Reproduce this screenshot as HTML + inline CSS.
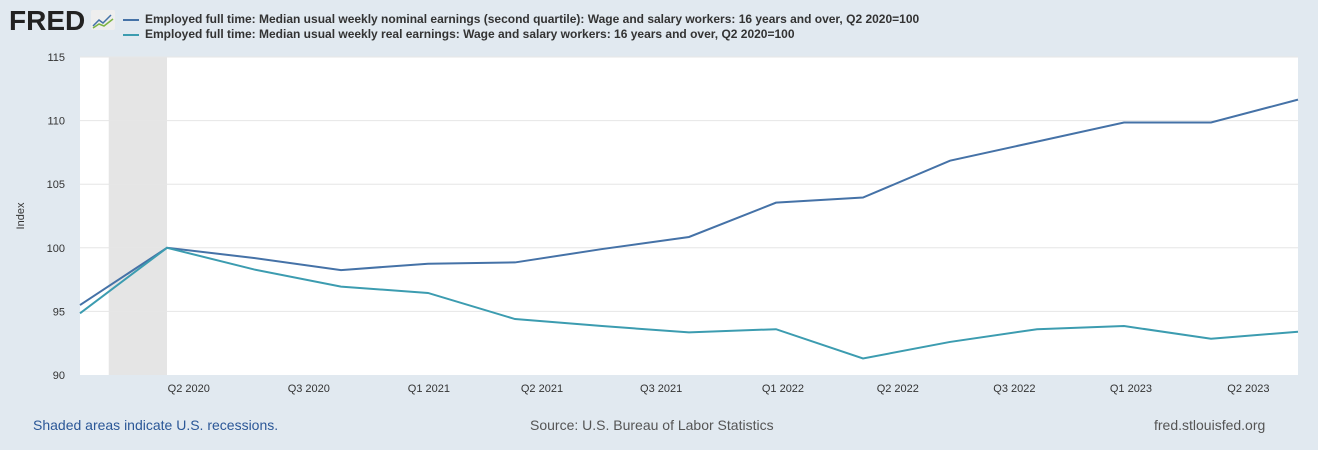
<!DOCTYPE html>
<html><head><meta charset="utf-8"><style>
body{margin:0;width:1318px;height:450px;background:#e1e9f0;font-family:"Liberation Sans",Arial,sans-serif;overflow:hidden;position:relative}
.logo{position:absolute;left:9px;top:5px;font-weight:900;font-size:28px;color:#222;letter-spacing:0px}
.leg{position:absolute;left:123px;font-size:12px;font-weight:bold;color:#333}
.leg span{display:inline-block;width:16px;height:2px;vertical-align:middle;margin-right:6px}
.foot{position:absolute;top:417px;font-size:14px}
</style></head><body>
<div class="logo">FRED</div>
<svg style="position:absolute;left:91px;top:10px" width="24" height="20"><rect width="24" height="20" rx="2" fill="#eee"/><polyline points="2,16 8,10 12,13 20,5" fill="none" stroke="#4572a7" stroke-width="1.5"/><polyline points="2,18 8,14 13,16 22,9" fill="none" stroke="#7cb342" stroke-width="1.5"/></svg>
<div class="leg" style="top:12px"><span style="background:#4572a7"></span>Employed full time: Median usual weekly nominal earnings (second quartile): Wage and salary workers: 16 years and over, Q2 2020=100</div>
<div class="leg" style="top:27px"><span style="background:#3c9cb0"></span>Employed full time: Median usual weekly real earnings: Wage and salary workers: 16 years and over, Q2 2020=100</div>
<svg id="chart" style="position:absolute;left:0;top:0" width="1318" height="410"></svg>
<div class="foot" style="left:33px;color:#2b5797">Shaded areas indicate U.S. recessions.</div>
<div class="foot" style="left:530px;color:#555">Source: U.S. Bureau of Labor Statistics</div>
<div class="foot" style="left:1154px;color:#555">fred.stlouisfed.org</div>
<script>
const quarters=["Q1 2020","Q2 2020","Q3 2020","Q4 2020","Q1 2021","Q2 2021","Q3 2021","Q4 2021","Q1 2022","Q2 2022","Q3 2022","Q4 2022","Q1 2023","Q2 2023","Q3 2023"];
const nominal=[95.5,100,99.2,98.25,98.75,98.85,99.9,100.85,103.55,103.95,106.85,108.35,109.85,109.85,111.65];
const real=[94.85,100,98.3,96.95,96.45,94.4,93.85,93.35,93.6,91.3,92.6,93.6,93.85,92.85,93.4];
const yTicks=[90,95,100,105,110,115];
const xTickLabels=["Q2 2020","Q3 2020","Q1 2021","Q2 2021","Q3 2021","Q1 2022","Q2 2022","Q3 2022","Q1 2023","Q2 2023"];
const xTickAt=[1.25,2.63,4.01,5.31,6.68,8.08,9.4,10.74,12.08,13.43];
const recession=[0.33,1];
const L=80,R=1298,T=57,B=375,ns="http://www.w3.org/2000/svg",svg=document.getElementById('chart');
const x=i=>L+i*(R-L)/(quarters.length-1);
const y=v=>B-(v-90)*(B-T)/25;
function mk(t,a,p){const e=document.createElementNS(ns,t);for(const k in a)e.setAttribute(k,a[k]);(p||svg).appendChild(e);return e;}
const bg=mk('rect',{x:L,y:T,width:R-L,height:B-T,fill:'#fff'});


const rs=mk('rect',{x:x(recession[0]),y:T,width:x(recession[1])-x(recession[0]),height:B-T,fill:'#e5e5e5'});


yTicks.forEach(v=>{
  if(v>90){const g=mk('line',{x1:L,x2:R,y1:y(v),y2:y(v),stroke:'#e6e6e6'});
  
  }
  const t=mk('text',{x:65,y:y(v)+4,'text-anchor':'end','font-size':11,fill:'#333'});t.textContent=v;
  
  
});
xTickLabels.forEach((s,k)=>{
  const t=mk('text',{x:x(xTickAt[k]),y:392,'text-anchor':'middle','font-size':11,fill:'#333'});t.textContent=s;
  
  
});
const yt=mk('text',{x:24,y:216,'text-anchor':'middle','font-size':11,fill:'#333',transform:'rotate(-90 24 216)'});yt.textContent='Index';


[[nominal,'#4572a7','series-nominal'],[real,'#3c9cb0','series-real']].forEach(([d,c,n])=>{
  const p=mk('polyline',{points:d.map((v,i)=>x(i)+','+y(v)).join(' '),fill:'none',stroke:c,'stroke-width':2});
  
  
});
</script>
</body></html>
